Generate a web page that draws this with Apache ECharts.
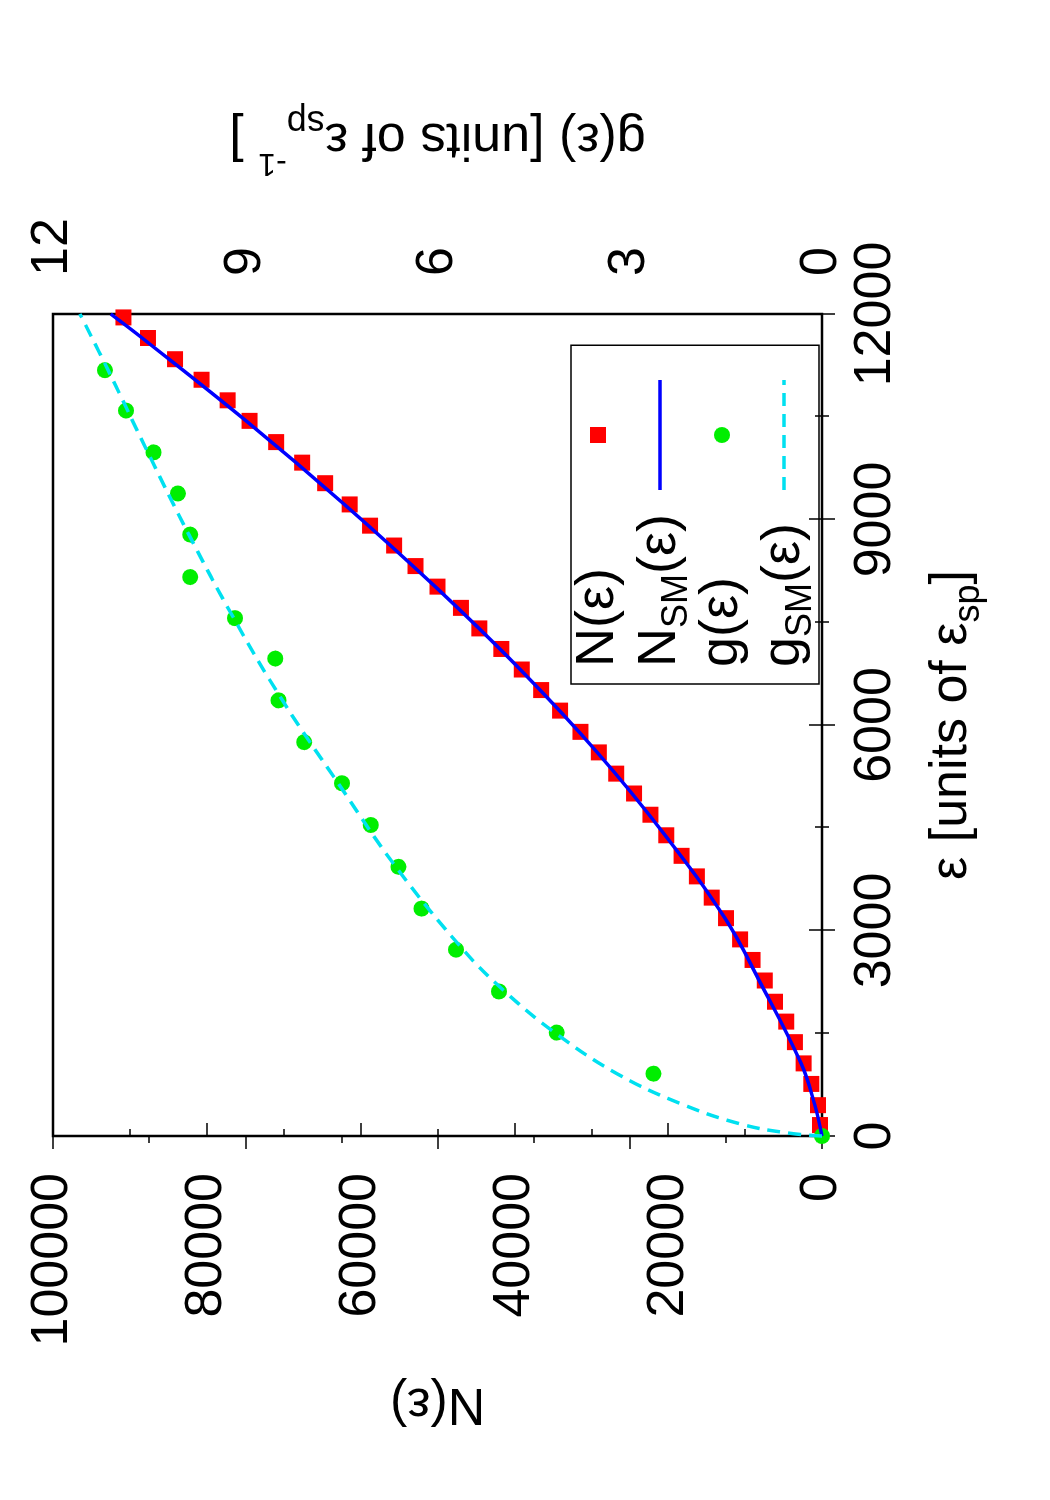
<!DOCTYPE html>
<html>
<head>
<meta charset="utf-8">
<script src="https://cdn.jsdelivr.net/npm/echarts@6/dist/echarts.min.js"></script>
<style>
html,body{margin:0;padding:0;width:1050px;height:1500px;overflow:hidden;background:#fff;}
#chart{position:absolute;left:0;top:0;width:1500px;height:1050px;transform-origin:0 0;transform:translateY(1500px) rotate(-90deg);}
</style>
</head>
<body>
<div id="chart"></div>
<script>
// ---- data ----
// N(ε) markers
const nEps = [160, 450, 760, 1060, 1370, 1670, 1960, 2270, 2570, 2870, 3180, 3480, 3790, 4090, 4390, 4690, 5000, 5290, 5600, 5900, 6210, 6510, 6810, 7110, 7410, 7710, 8020, 8320, 8620, 8910, 9220, 9530, 9830, 10130, 10440, 10740, 11040, 11340, 11650, 11950];
const nVal = [260, 520, 1390, 2390, 3520, 4650, 6110, 7440, 9030, 10650, 12480, 14340, 16270, 18260, 20250, 22310, 24440, 26760, 29020, 31410, 34060, 36520, 39040, 41700, 44560, 46950, 50000, 52860, 55640, 58770, 61420, 64610, 67600, 70980, 74440, 77290, 80680, 84130, 87650, 90840];
// N_SM(ε) curve
const nsmEps = [0, 450, 1060, 2270, 3180, 4390, 5600, 6810, 8020, 9220, 10440, 11640, 12000];
const nsmVal = [0, 930, 2720, 8170, 12620, 20390, 29220, 39240, 50300, 62100, 74900, 88300, 92500];
// g(ε) markers
const gEps = [0, 910, 1510, 2110, 2720, 3320, 3930, 4540, 5150, 5750, 6360, 6970, 7560, 8160, 8780, 9380, 9980, 10590, 11180];
const gVal = [0, 2.63, 4.14, 5.04, 5.71, 6.25, 6.61, 7.04, 7.49, 8.08, 8.48, 8.53, 9.16, 9.86, 9.86, 10.05, 10.43, 10.86, 11.19];
// g_SM(ε) curve
const gsmEps = [0, 40, 170, 470, 910, 1510, 2110, 2720, 3930, 5150, 6360, 7560, 8780, 9980, 11180, 12000];
const gsmVal = [0, 0.5, 1.25, 2.2, 3.2, 4.17, 4.95, 5.6, 6.65, 7.55, 8.42, 9.18, 9.88, 10.52, 11.14, 11.58];
// tick labels
const epsTicks = [0, 3000, 6000, 9000, 12000];
const nTicks = [0, 20000, 40000, 60000, 80000, 100000];
const gTicks = [0, 3, 6, 9, 12];
// series names
const seriesNames = ['N(ε)', 'N_SM(ε)', 'g(ε)', 'g_SM(ε)'];

// ---- chart ----
const FONT = '"Liberation Sans", Arial, Helvetica, sans-serif';
const pairs = (xs, ys) => xs.map((x, i) => [x, ys[i]]);
const tickStyle = { lineStyle: { color: '#000', width: 1.5 } };

const legendRich = {
  m: { fontSize: 54, lineHeight: 59.5, fontFamily: FONT, color: '#000', verticalAlign: 'middle', align: 'left' },
  s: { fontSize: 36, lineHeight: 59.5, fontFamily: FONT, color: '#000', verticalAlign: 'middle', align: 'left', padding: [34, 0, 0, 0] }
};
const legendText = {
  'N(ε)': '{m|N(ε)}',
  'N_SM(ε)': '{m|N}{s|SM}{m|(ε)}',
  'g(ε)': '{m|g(ε)}',
  'g_SM(ε)': '{m|g}{s|SM}{m|(ε)}'
};
const nameRich = {
  m: { fontSize: 52, lineHeight: 52, fontFamily: FONT, color: '#000', verticalAlign: 'middle' },
  s: { fontSize: 36, lineHeight: 52, fontFamily: FONT, color: '#000', verticalAlign: 'middle', padding: [34, 0, 0, 0] },
  p: { fontSize: 32, lineHeight: 52, fontFamily: FONT, color: '#000', verticalAlign: 'middle', padding: [0, 0, 50, 0] }
};

const labelBase = { color: '#000', fontSize: 52, fontFamily: FONT, showMinLabel: true, showMaxLabel: true, formatter: v => String(v) };

const chart = echarts.init(document.getElementById('chart'), null, { renderer: 'canvas' });
chart.setOption({
  animation: false,
  backgroundColor: '#fff',
  grid: { left: 364, right: 314, top: 53, bottom: 228, show: true, borderColor: '#000', borderWidth: 2.5, backgroundColor: 'transparent', containLabel: false, outerBoundsMode: 'none' },
  legend: {
    orient: 'vertical', left: 816, top: 571, align: 'right',
    itemWidth: 110, itemHeight: 16, itemGap: 0, symbolKeepAspect: true,
    padding: [0, 33, 0, 17], borderColor: '#000', borderWidth: 1.5,
    selectedMode: false,
    data: [
      { name: seriesNames[0], icon: 'path://M0,0L10,0L10,10L0,10Z' },
      { name: seriesNames[1], itemStyle: { opacity: 0, borderWidth: 0 }, lineStyle: { width: 3.5 } },
      { name: seriesNames[2], icon: 'circle' },
      { name: seriesNames[3], itemStyle: { opacity: 0, borderWidth: 0 }, lineStyle: { width: 3.5 } }
    ],
    formatter: n => legendText[n],
    textStyle: { width: 172, color: '#000', fontFamily: FONT, fontSize: 54, rich: legendRich }
  },
  xAxis: [{
    type: 'value', position: 'bottom',
    min: epsTicks[0], max: epsTicks[epsTicks.length - 1], interval: epsTicks[1] - epsTicks[0],
    name: '{m|ε [units of ε}{s|sp}{m|]}', nameLocation: 'middle', nameGap: 104,
    nameTextStyle: { rich: nameRich },
    axisLine: { show: false }, splitLine: { show: false },
    axisTick: Object.assign({ show: true, inside: true, length: 13 }, tickStyle),
    minorTick: Object.assign({ show: true, splitNumber: 2, length: 7 }, tickStyle),
    axisLabel: Object.assign({ margin: 28 }, labelBase)
  }, {
    type: 'value', position: 'top',
    min: epsTicks[0], max: epsTicks[epsTicks.length - 1], interval: epsTicks[1] - epsTicks[0],
    axisLine: { show: false }, splitLine: { show: false },
    axisTick: Object.assign({ show: true, inside: true, length: 13 }, tickStyle),
    minorTick: Object.assign({ show: true, splitNumber: 2, length: 7 }, tickStyle),
    axisLabel: { show: false }
  }],
  yAxis: [{
    type: 'value', position: 'left',
    min: nTicks[0], max: nTicks[nTicks.length - 1], interval: nTicks[1] - nTicks[0],
    name: '{m|N(ε)}', nameLocation: 'middle', nameGap: 241, nameRotate: 90,
    nameTextStyle: { rich: nameRich },
    axisLine: { show: false }, splitLine: { show: false },
    axisTick: Object.assign({ show: true, inside: true, length: 13 }, tickStyle),
    minorTick: Object.assign({ show: true, splitNumber: 2, length: 7 }, tickStyle),
    axisLabel: Object.assign({ margin: 37 }, labelBase)
  }, {
    type: 'value', position: 'right',
    min: gTicks[0], max: gTicks[gTicks.length - 1], interval: gTicks[1] - gTicks[0],
    name: '{m|g(ε) [units of ε}{s|sp}{p|-1}{m| ]}', nameLocation: 'middle', nameGap: 150, nameRotate: 90,
    nameTextStyle: { rich: nameRich },
    axisLine: { show: false }, splitLine: { show: false },
    axisTick: Object.assign({ show: true, inside: true, length: 13 }, tickStyle),
    minorTick: Object.assign({ show: true, splitNumber: 2, length: 7 }, tickStyle),
    axisLabel: Object.assign({ margin: 38 }, labelBase)
  }],
  series: [{
    name: seriesNames[0], type: 'scatter', xAxisIndex: 0, yAxisIndex: 0,
    symbol: 'rect', symbolSize: 16, clip: false,
    itemStyle: { color: '#ff0000', opacity: 1 },
    data: pairs(nEps, nVal)
  }, {
    name: seriesNames[1], type: 'line', xAxisIndex: 0, yAxisIndex: 0,
    symbol: 'none', showSymbol: false, smooth: 0.4,
    lineStyle: { color: '#0000ff', width: 3.5 }, itemStyle: { color: '#0000ff' },
    data: pairs(nsmEps, nsmVal)
  }, {
    name: seriesNames[2], type: 'scatter', xAxisIndex: 0, yAxisIndex: 1,
    symbol: 'circle', symbolSize: 16, clip: false,
    itemStyle: { color: '#00ee00', opacity: 1 },
    data: pairs(gEps, gVal)
  }, {
    name: seriesNames[3], type: 'line', xAxisIndex: 0, yAxisIndex: 1,
    symbol: 'none', showSymbol: false, smooth: 0.4,
    lineStyle: { color: '#00e0f0', width: 3.5, type: [13, 8] }, itemStyle: { color: '#00e0f0' },
    data: pairs(gsmEps, gsmVal)
  }]
});
</script>
</body>
</html>
